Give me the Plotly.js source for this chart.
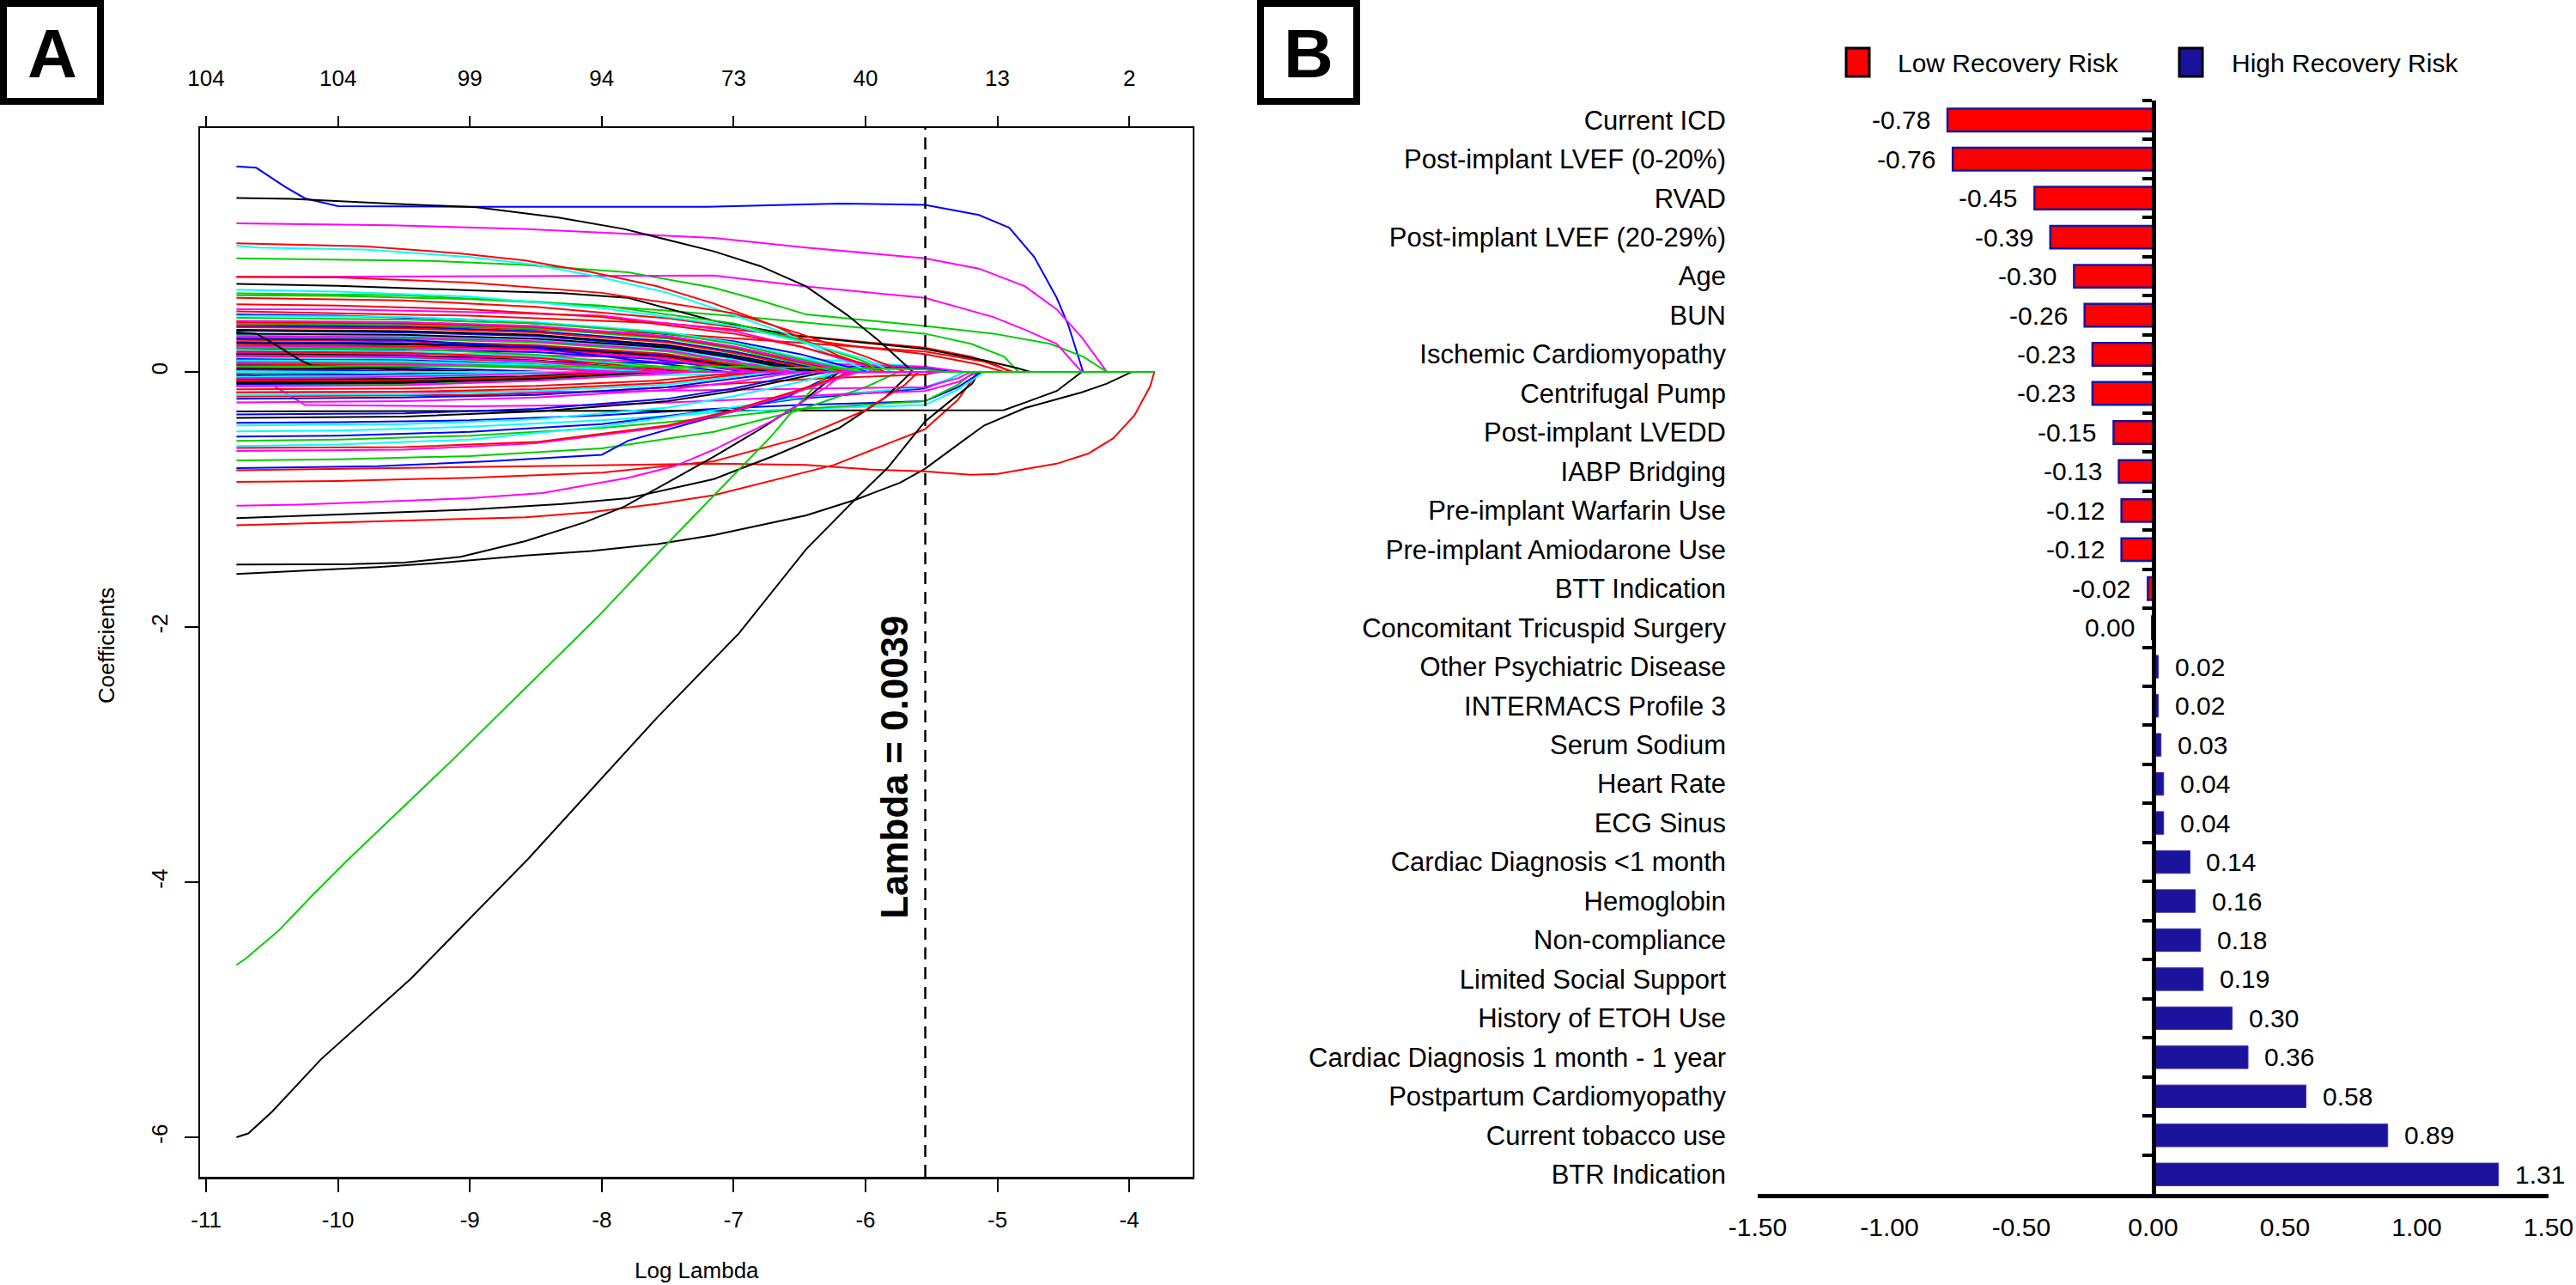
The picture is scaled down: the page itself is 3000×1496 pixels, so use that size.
<!DOCTYPE html>
<html>
<head>
<meta charset="utf-8">
<script src="https://cdn.plot.ly/plotly-3.0.1.min.js"></script>
<style>
  body { margin: 0; background: #fff; }
  #plot { width: 3000px; height: 1496px; }
</style>
</head>
<body>
<div id="plot"></div>
<script>
// ---- Panel A: lasso coefficient paths (log lambda, coefficient) ----
const logLambdaMax = -3.81;
const lambdaMin = 0.0039;
const dfTickVals = [-11, -10, -9, -8, -7, -6, -5, -4];
const dfTickText = ['104', '104', '99', '94', '73', '40', '13', '2'];
const coefTickVals = [-6, -4, -2, 0];

const pathsBlack = [
  [[-10.77,-1.585],[-10.54,-1.575],[-10.08,-1.55],[-9.7,-1.53],[-9.2,-1.495],[-8.58,-1.44],[-8.08,-1.405],[-7.58,-1.35],[-7.15,-1.28],[-6.45,-1.125],[-6.07,-1.0],[-5.74,-0.87],[-5.55,-0.76],[-5.26,-0.54],[-5.1,-0.42],[-4.79,-0.283],[-4.55,-0.215],[-4.36,-0.16],[-4.17,-0.092],[-3.98,0]],
  [[-10.77,-6.0],[-10.68,-5.97],[-10.5,-5.8],[-10.13,-5.39],[-9.45,-4.76],[-8.56,-3.82],[-7.58,-2.71],[-6.96,-2.05],[-6.45,-1.39],[-6.05,-0.97],[-5.83,-0.75],[-5.55,-0.39],[-5.36,-0.23],[-5.19,-0.09],[-5.14,0]],
  [[-10.77,-0.31],[-8,-0.305],[-5.55,-0.3],[-4.95,-0.3],[-4.79,-0.24],[-4.55,-0.15],[-4.36,0]],
  [[-10.77,0.689],[-10,0.675],[-9,0.64],[-8.3,0.617],[-7.8,0.58],[-7.15,0.4],[-6.5,0.28],[-5.55,0.18],[-5.1,0.09],[-4.85,0.03],[-4.75,0]],
  [[-10.77,1.363],[-10.35,1.356],[-9.58,1.318],[-8.95,1.29],[-8.33,1.21],[-7.83,1.12],[-7.15,0.945],[-6.8,0.83],[-6.45,0.67],[-6.14,0.447],[-5.9,0.245],[-5.69,0.043],[-5.64,0]],
  [[-10.77,-1.147],[-10,-1.12],[-9,-1.08],[-8.3,-1.035],[-7.8,-0.99],[-7.15,-0.84],[-6.7,-0.66],[-6.2,-0.44],[-5.85,-0.2],[-5.65,0]],
  [[-10.77,-1.511],[-9.9,-1.507],[-9.5,-1.495],[-9.07,-1.45],[-8.58,-1.327],[-8.13,-1.18],[-7.83,-1.057],[-7.48,-0.855],[-7.15,-0.664],[-6.8,-0.45],[-6.5,-0.25],[-6.2,0]],
  [[-10.77,0.225],[-9.5,0.215],[-8.5,0.19],[-7.5,0.12],[-6.75,0]],
  [[-10.77,0.3],[-9.5,0.29],[-8.5,0.26],[-7.5,0.19],[-7,0.11],[-6.45,0]],
  [[-10.77,0.33],[-9.5,0.32],[-8.5,0.29],[-7.5,0.21],[-7,0.13],[-6.35,0]],
  [[-10.77,-0.36],[-9.5,-0.35],[-8.5,-0.31],[-7.5,-0.23],[-7,-0.15],[-6.3,0]],
  [[-10.77,0.14],[-9.5,0.13],[-8.5,0.09],[-7.4,0]],
  [[-10.77,-0.06],[-9.5,-0.055],[-8.6,-0.035],[-7.9,0]],
  [[-10.77,-0.081],[-9.5,-0.075],[-8.5,-0.05],[-7.7,0]],
  [[-10.77,-0.09],[-9.5,-0.083],[-8.5,-0.055],[-7.6,0]],
  [[-10.77,0.03],[-9.8,0.025],[-8.8,0]],
  [[-10.77,0.31],[-10.62,0.3],[-10.5,0.23],[-10.3,0.1],[-10.2,0.05],[-9.7,0.03],[-9.2,0]]
];

const pathsRed = [
  [[-10.77,-0.772],[-10,-0.76],[-9,-0.745],[-8,-0.73],[-7.15,-0.72],[-6.45,-0.73],[-5.97,-0.765],[-5.55,-0.78],[-5.2,-0.806],[-5.0,-0.8],[-4.79,-0.765],[-4.55,-0.72],[-4.31,-0.64],[-4.12,-0.52],[-3.96,-0.34],[-3.84,-0.11],[-3.81,0]],
  [[-10.77,-1.203],[-10.3,-1.19],[-9.5,-1.17],[-8.58,-1.14],[-8.08,-1.1],[-7.58,-1.035],[-7.15,-0.967],[-6.24,-0.73],[-5.8,-0.55],[-5.55,-0.45],[-5.3,-0.22],[-5.15,0]],
  [[-10.77,0.474],[-9,0.44],[-7.5,0.38],[-6.5,0.28],[-5.55,0.19],[-5.2,0.12],[-5,0.05],[-4.9,0]],
  [[-10.77,0.375],[-9,0.35],[-7.5,0.3],[-6.5,0.23],[-5.55,0.16],[-5.1,0.08],[-4.88,0]],
  [[-10.77,0.581],[-9.5,0.56],[-8.5,0.51],[-7.5,0.42],[-7,0.35],[-6.5,0.26],[-6,0.19],[-5.55,0.14],[-5.15,0.06],[-4.95,0]],
  [[-10.77,-0.193],[-9,-0.18],[-8,-0.15],[-7,-0.09],[-6.3,-0.05],[-5.55,-0.02],[-5.45,0]],
  [[-10.77,1.008],[-9.8,0.985],[-9.08,0.929],[-8.58,0.873],[-8.08,0.783],[-7.58,0.671],[-7.15,0.536],[-6.68,0.357],[-6.21,0.13],[-5.85,0]],
  [[-10.77,-0.862],[-10,-0.855],[-9,-0.83],[-8,-0.79],[-7.15,-0.7],[-6.5,-0.52],[-6,-0.3],[-5.7,-0.1],[-5.6,0]],
  [[-10.77,0.745],[-10,0.74],[-9,0.7],[-8,0.62],[-7,0.46],[-6.5,0.3],[-6,0.12],[-5.7,0]],
  [[-10.77,0.53],[-10,0.52],[-9,0.49],[-8,0.43],[-7,0.3],[-6.5,0.2],[-6,0.06],[-5.92,0]],
  [[-10.77,0.21],[-9.5,0.2],[-8.5,0.18],[-7.5,0.11],[-6.8,0]],
  [[-10.77,0.25],[-9.5,0.24],[-8.5,0.21],[-7.5,0.14],[-6.65,0]],
  [[-10.77,0.35],[-9.5,0.34],[-8.5,0.31],[-7.5,0.23],[-7,0.15],[-6.3,0]],
  [[-10.77,0.39],[-9.5,0.38],[-8.5,0.35],[-7.5,0.27],[-7,0.19],[-6.5,0.08],[-6.15,0]],
  [[-10.77,-0.137],[-9.5,-0.13],[-8.5,-0.11],[-7.6,-0.07],[-6.9,0]],
  [[-10.77,-0.16],[-9.5,-0.155],[-8.5,-0.135],[-7.5,-0.085],[-6.8,0]],
  [[-10.77,-0.597],[-9.5,-0.59],[-8.5,-0.55],[-7.5,-0.42],[-7,-0.3],[-6.5,-0.14],[-6.1,0]],
  [[-10.77,0.06],[-9.5,0.055],[-8.6,0.035],[-7.9,0]],
  [[-10.77,0.125],[-9.5,0.115],[-8.5,0.08],[-7.5,0]],
  [[-10.77,0.16],[-9.5,0.15],[-8.5,0.11],[-7.3,0]],
  [[-10.77,-0.07],[-9.5,-0.064],[-8.5,-0.04],[-7.8,0]],
  [[-10.77,0.02],[-10,0.015],[-9.3,0]]
];

const pathsBlue = [
  [[-10.77,1.61],[-10.62,1.6],[-10.4,1.45],[-10.25,1.36],[-10,1.3],[-9,1.295],[-7.2,1.295],[-6.6,1.31],[-6.2,1.32],[-5.55,1.31],[-5.14,1.23],[-4.91,1.13],[-4.72,0.9],[-4.55,0.58],[-4.46,0.36],[-4.35,0]],
  [[-10.77,0.092],[-9,0.085],[-7.5,0.07],[-6.5,0.05],[-5.55,0.03],[-5.35,0]],
  [[-10.77,-0.4],[-10,-0.395],[-9,-0.38],[-8,-0.34],[-7.15,-0.29],[-6.5,-0.26],[-5.55,-0.23],[-5.3,-0.12],[-5.12,0]],
  [[-10.77,-0.507],[-10,-0.5],[-9,-0.47],[-8,-0.41],[-7.15,-0.3],[-6.5,-0.21],[-5.55,-0.13],[-5.35,-0.05],[-5.25,0]],
  [[-10.77,0.45],[-10,0.44],[-9,0.41],[-8,0.35],[-7,0.24],[-6.5,0.14],[-6.1,0.03],[-5.98,0]],
  [[-10.77,-0.754],[-10.15,-0.745],[-9.7,-0.74],[-8.85,-0.7],[-8.0,-0.65],[-7.8,-0.54],[-7.15,-0.35],[-6.6,-0.2],[-6.2,0]],
  [[-10.77,0.184],[-9.5,0.175],[-8.5,0.155],[-7.6,0.1],[-6.9,0]],
  [[-10.77,0.233],[-9.5,0.225],[-8.5,0.2],[-7.5,0.13],[-6.7,0]],
  [[-10.77,0.323],[-9.5,0.31],[-8.5,0.28],[-7.5,0.2],[-7,0.12],[-6.4,0]],
  [[-10.77,0.36],[-9.5,0.35],[-8.5,0.32],[-7.5,0.24],[-7,0.16],[-6.25,0]],
  [[-10.77,-0.21],[-9.5,-0.2],[-8.5,-0.18],[-7.5,-0.12],[-6.6,0]],
  [[-10.77,-0.334],[-9.5,-0.325],[-8.5,-0.29],[-7.5,-0.21],[-7,-0.13],[-6.4,0]],
  [[-10.77,0.1],[-9.5,0.092],[-8.5,0.06],[-7.7,0]],
  [[-10.77,0.12],[-9.5,0.11],[-8.5,0.075],[-7.55,0]],
  [[-10.77,0.26],[-9.5,0.25],[-8.5,0.19],[-7.8,0.1],[-7.05,0]],
  [[-10.77,-0.1],[-9.5,-0.092],[-8.5,-0.06],[-7.5,0]],
  [[-10.77,-0.025],[-9.8,-0.02],[-8.6,0]],
  [[-10.77,0.05],[-9.8,0.042],[-9,0.02],[-8.4,0]],
  [[-10.77,0.016],[-10.1,0.012],[-9.4,0]]
];

const pathsCyan = [
  [[-10.77,0.3],[-9,0.26],[-7.5,0.18],[-6.5,0.11],[-5.55,0.04],[-5.3,0]],
  [[-10.77,-0.04],[-8,-0.03],[-6,-0.01],[-5.55,-0.004],[-5.5,0]],
  [[-10.77,-0.467],[-10,-0.46],[-9,-0.43],[-8,-0.38],[-7.15,-0.32],[-6.5,-0.29],[-5.55,-0.26],[-5.3,-0.14],[-5.1,0]],
  [[-10.77,-0.581],[-10,-0.57],[-9,-0.53],[-8,-0.43],[-7.15,-0.3],[-6.5,-0.2],[-5.55,-0.12],[-5.35,-0.05],[-5.25,0]],
  [[-10.77,0.99],[-10.6,0.975],[-9.8,0.96],[-9,0.9],[-8.5,0.84],[-8,0.74],[-7.5,0.62],[-7.15,0.5],[-6.6,0.3],[-6.2,0.1],[-5.95,0]],
  [[-10.77,0.644],[-10,0.63],[-9,0.59],[-8,0.5],[-7,0.36],[-6.5,0.24],[-6,0.1],[-5.8,0]],
  [[-10.77,0.29],[-9.5,0.28],[-8.5,0.25],[-7.5,0.18],[-7,0.1],[-6.5,0]],
  [[-10.77,0.44],[-9.5,0.43],[-8.5,0.39],[-7.5,0.31],[-7,0.23],[-6.5,0.11],[-6.02,0]],
  [[-10.77,-0.18],[-9.5,-0.175],[-8.5,-0.15],[-7.5,-0.1],[-6.7,0]],
  [[-10.77,-0.42],[-9.5,-0.41],[-8.5,-0.37],[-7.5,-0.28],[-7,-0.19],[-6.5,-0.08],[-6.2,0]],
  [[-10.77,0.09],[-9.5,0.083],[-8.5,0.055],[-7.75,0]],
  [[-10.77,0.114],[-9.5,0.105],[-8.5,0.07],[-7.6,0]],
  [[-10.77,0.17],[-9.5,0.16],[-8.5,0.12],[-7.25,0]],
  [[-10.77,-0.04],[-9.8,-0.034],[-9,-0.018],[-8.3,0]],
  [[-10.77,0.005],[-10.3,0.004],[-9.8,0]]
];

const pathsMagenta = [
  [[-10.77,1.165],[-9.6,1.15],[-8.6,1.12],[-7.15,1.05],[-6.45,0.975],[-5.55,0.89],[-5.14,0.81],[-4.79,0.67],[-4.55,0.49],[-4.36,0.27],[-4.17,0]],
  [[-10.77,0.743],[-8.5,0.75],[-7.15,0.756],[-6.45,0.67],[-5.55,0.58],[-5.03,0.43],[-4.79,0.33],[-4.55,0.22],[-4.36,0]],
  [[-10.77,0.15],[-9,0.14],[-7.5,0.11],[-6.5,0.07],[-5.55,0.04],[-5.25,0]],
  [[-10.77,0.137],[-9,0.12],[-7.5,0.08],[-6.5,0.045],[-5.55,0.02],[-5.42,0]],
  [[-10.77,-0.01],[-10.6,-0.03],[-10.5,-0.1],[-10.25,-0.26],[-9,-0.27],[-8,-0.26],[-7,-0.22],[-6.3,-0.18],[-5.55,-0.15],[-5.3,-0.08],[-5.15,0]],
  [[-10.77,-0.16],[-9,-0.16],[-8,-0.155],[-7,-0.14],[-6.3,-0.13],[-5.55,-0.12],[-5.3,-0.05],[-5.2,0]],
  [[-10.77,0.492],[-10,0.49],[-9,0.47],[-8,0.44],[-7,0.32],[-6.5,0.2],[-6,0.05],[-5.95,0]],
  [[-10.77,-1.05],[-10.3,-1.04],[-9.5,-1.01],[-9,-0.99],[-8.45,-0.95],[-7.8,-0.83],[-7.45,-0.74],[-7.15,-0.61],[-6.7,-0.38],[-6.3,-0.12],[-6.15,0]],
  [[-10.77,0.2],[-9.5,0.19],[-8.5,0.17],[-7.6,0.11],[-6.85,0]],
  [[-10.77,0.28],[-9.5,0.27],[-8.5,0.24],[-7.5,0.17],[-6.55,0]],
  [[-10.77,0.4],[-9.5,0.39],[-8.5,0.36],[-7.5,0.28],[-7,0.2],[-6.5,0.09],[-6.1,0]],
  [[-10.77,-0.24],[-9.5,-0.23],[-8.5,-0.2],[-7.5,-0.14],[-7,-0.08],[-6.5,0]],
  [[-10.77,-0.62],[-9.5,-0.61],[-8.5,-0.56],[-7.5,-0.43],[-7,-0.31],[-6.5,-0.15],[-6.05,0]],
  [[-10.77,0.07],[-9.5,0.064],[-8.6,0.04],[-7.85,0]],
  [[-10.77,0.13],[-9.5,0.12],[-8.5,0.085],[-7.45,0]],
  [[-10.77,-0.114],[-9.5,-0.105],[-8.5,-0.07],[-7.3,0]],
  [[-10.77,-0.05],[-9.8,-0.043],[-9,-0.025],[-8.1,0]]
];

const pathsGreen = [
  [[-10.77,0.89],[-9.3,0.87],[-8.6,0.84],[-7.8,0.78],[-7.15,0.66],[-6.8,0.56],[-6.45,0.45],[-5.97,0.4],[-5.55,0.36],[-5.03,0.3],[-4.6,0.22],[-4.35,0.12],[-4.17,0]],
  [[-10.77,0.615],[-9.5,0.6],[-8.5,0.55],[-7.5,0.48],[-6.8,0.42],[-6.2,0.36],[-5.55,0.3],[-5.2,0.22],[-4.95,0.12],[-4.84,0]],
  [[-10.77,-0.541],[-10,-0.53],[-9,-0.5],[-8,-0.44],[-7.15,-0.36],[-6.5,-0.29],[-5.55,-0.23],[-5.3,-0.1],[-5.18,0]],
  [[-10.77,-0.694],[-10,-0.685],[-9,-0.66],[-8,-0.6],[-7.15,-0.47],[-6.5,-0.3],[-6,-0.12],[-5.75,0]],
  [[-10.77,0.6],[-10,0.595],[-9,0.57],[-8,0.52],[-7,0.38],[-6.5,0.25],[-6,0.08],[-5.9,0]],
  [[-10.77,-4.65],[-10.7,-4.6],[-10.45,-4.38],[-10.2,-4.11],[-9.92,-3.82],[-9.14,-3.05],[-8.55,-2.45],[-8.03,-1.92],[-7.6,-1.45],[-7.16,-0.98],[-6.71,-0.5],[-6.54,-0.29],[-6.38,-0.11],[-6.26,0]],
  [[-10.77,0.27],[-9.5,0.26],[-8.5,0.23],[-7.5,0.16],[-6.6,0]],
  [[-10.77,0.38],[-9.5,0.37],[-8.5,0.34],[-7.5,0.26],[-7,0.18],[-6.2,0]],
  [[-10.77,0.424],[-9.5,0.41],[-8.5,0.38],[-7.5,0.3],[-7,0.22],[-6.5,0.1],[-6.05,0]],
  [[-10.77,0.081],[-9.5,0.075],[-8.5,0.048],[-7.8,0]],
  [[-10.77,0.19],[-9.5,0.18],[-8.5,0.135],[-7.15,0]],
  [[-10.77,-0.11],[-9.5,-0.1],[-8.5,-0.065],[-7.4,0]],
  [[-10.77,-0.01],[-10.2,-0.008],[-9.6,0]],
  [[-10.77,0.043],[-9,0.045],[-7,0.04],[-5.55,0.02],[-5.4,0]]
];

// ---- Panel B: coefficients at the chosen lambda ----
const factorNames = [
  'Current ICD', 'Post-implant LVEF (0-20%)', 'RVAD', 'Post-implant LVEF (20-29%)', 'Age', 'BUN',
  'Ischemic Cardiomyopathy', 'Centrifugal Pump', 'Post-implant LVEDD', 'IABP Bridging',
  'Pre-implant Warfarin Use', 'Pre-implant Amiodarone Use', 'BTT Indication',
  'Concomitant Tricuspid Surgery', 'Other Psychiatric Disease', 'INTERMACS Profile 3',
  'Serum Sodium', 'Heart Rate', 'ECG Sinus', 'Cardiac Diagnosis <1 month', 'Hemoglobin',
  'Non-compliance', 'Limited Social Support', 'History of ETOH Use',
  'Cardiac Diagnosis 1 month - 1 year', 'Postpartum Cardiomyopathy', 'Current tobacco use', 'BTR Indication'
];
const factorCoefs = [
  -0.78, -0.76, -0.45, -0.39, -0.30, -0.26, -0.23, -0.23, -0.15, -0.13, -0.12, -0.12, -0.02,
  -0.004, 0.02, 0.02, 0.03, 0.04, 0.04, 0.14, 0.16, 0.18, 0.19, 0.30, 0.36, 0.58, 0.89, 1.31
];
const coefAxisTicks = [-1.5, -1.0, -0.5, 0, 0.5, 1.0, 1.5];

const FONT = 'Liberation Sans, Arial, Helvetica, sans-serif';
const RED = '#FF0000';
const NAVY = '#1B139B';

// build coefficient path traces, interleaving colours like R's matplot cycle
const groups = [
  {paths: pathsBlack, color: '#000000'},
  {paths: pathsRed, color: '#FF0000'},
  {paths: pathsBlue, color: '#0000FF'},
  {paths: pathsCyan, color: '#00FFFF'},
  {paths: pathsMagenta, color: '#FF00FF'},
  {paths: pathsGreen, color: '#00CD00'}
];
const entries = [];
groups.forEach((g, gi) => {
  g.paths.forEach((p, k) => {
    entries.push({p: p, color: g.color, pos: k / (g.paths.length - 1), gi: gi});
  });
});
entries.sort((a, b) => (a.pos - b.pos) || (a.gi - b.gi));

const traces = entries.map(e => {
  const pts = e.p.slice();
  if (pts[pts.length - 1][0] < logLambdaMax) pts.push([logLambdaMax, 0]);
  return {
    type: 'scatter', mode: 'lines',
    x: pts.map(d => d[0]), y: pts.map(d => d[1]),
    xaxis: 'x', yaxis: 'y',
    line: {color: e.color, width: 2},
    hoverinfo: 'skip', showlegend: false
  };
});

// top axis helper (degrees of freedom labels)
traces.push({
  type: 'scatter', mode: 'markers', x: dfTickVals, y: dfTickVals.map(() => 0),
  xaxis: 'x2', yaxis: 'y', marker: {opacity: 0}, hoverinfo: 'skip', showlegend: false
});

// bar chart
const lowIdx = factorCoefs.map((v, i) => i).filter(i => factorCoefs[i] < 0);
const highIdx = factorCoefs.map((v, i) => i).filter(i => factorCoefs[i] > 0);

traces.push({
  type: 'bar', orientation: 'h', name: 'Low Recovery Risk',
  x: lowIdx.map(i => factorCoefs[i]), y: lowIdx.map(i => factorNames[i]),
  xaxis: 'x3', yaxis: 'y3',
  marker: {color: RED, line: {color: NAVY, width: 2.5}},
  hoverinfo: 'skip', showlegend: false
});
traces.push({
  type: 'bar', orientation: 'h', name: 'High Recovery Risk',
  x: highIdx.map(i => factorCoefs[i]), y: highIdx.map(i => factorNames[i]),
  xaxis: 'x3', yaxis: 'y3',
  marker: {color: NAVY, line: {color: '#3A34B0', width: 1}},
  hoverinfo: 'skip', showlegend: false
});
// helper so the zero axis (with boundary ticks) is drawn
traces.push({
  type: 'scatter', mode: 'markers', x: [0], y: [0],
  xaxis: 'x3', yaxis: 'y4', marker: {opacity: 0}, hoverinfo: 'skip', showlegend: false
});

const fmt = v => (Math.abs(v) < 0.005 ? '0.00' : v.toFixed(2));

const annotations = [];
factorCoefs.forEach((v, i) => {
  annotations.push({
    xref: 'x3', yref: 'y3', x: v, y: factorNames[i],
    text: fmt(v), showarrow: false,
    xanchor: v < 0 ? 'right' : 'left', xshift: v < 0 ? -18 : 17,
    font: {family: FONT, size: 30, color: '#000'}
  });
});

// panel letters, axis titles, lambda label, legend text
annotations.push(
  {xref: 'paper', yref: 'paper', x: 61 / 3000, y: 1 - 62 / 1496, text: '<b>A</b>', showarrow: false,
   xanchor: 'center', yanchor: 'middle', font: {family: FONT, size: 80, color: '#000'}},
  {xref: 'paper', yref: 'paper', x: 1524 / 3000, y: 1 - 62 / 1496, text: '<b>B</b>', showarrow: false,
   xanchor: 'center', yanchor: 'middle', font: {family: FONT, size: 80, color: '#000'}},
  {xref: 'paper', yref: 'paper', x: 124 / 3000, y: 1 - 752 / 1496, text: 'Coefficients', textangle: -90,
   showarrow: false, xanchor: 'center', yanchor: 'middle', font: {family: FONT, size: 26, color: '#000'}},
  {xref: 'paper', yref: 'paper', x: 811 / 3000, y: 1 - 1479 / 1496, text: 'Log Lambda',
   showarrow: false, xanchor: 'center', yanchor: 'middle', font: {family: FONT, size: 26, color: '#000'}},
  {xref: 'x', yref: 'y', x: Math.log(lambdaMin), y: -3.1, xshift: -36, text: '<b>Lambda = ' + lambdaMin + '</b>',
   textangle: -90, showarrow: false, xanchor: 'center', yanchor: 'middle',
   font: {family: FONT, size: 44, color: '#000'}},
  {xref: 'paper', yref: 'paper', x: 2208 / 3000, y: 1 - 73 / 1496, text: 'Low Recovery Risk',
   showarrow: false, xanchor: 'left', yanchor: 'middle', font: {family: FONT, size: 30, color: '#000'}},
  {xref: 'paper', yref: 'paper', x: 2597 / 3000, y: 1 - 73 / 1496, text: 'High Recovery Risk',
   showarrow: false, xanchor: 'left', yanchor: 'middle', font: {family: FONT, size: 30, color: '#000'}}
);

const shapes = [
  // panel letter boxes
  {type: 'rect', xref: 'paper', yref: 'paper', x0: 4 / 3000, x1: 117 / 3000, y0: 1 - 118 / 1496, y1: 1 - 4 / 1496,
   line: {color: '#000', width: 8}},
  {type: 'rect', xref: 'paper', yref: 'paper', x0: 1468 / 3000, x1: 1580 / 3000, y0: 1 - 118 / 1496, y1: 1 - 4 / 1496,
   line: {color: '#000', width: 8}},
  // chosen lambda
  {type: 'line', xref: 'x', yref: 'y domain', x0: Math.log(lambdaMin), x1: Math.log(lambdaMin), y0: 0, y1: 1,
   line: {color: '#000', width: 2.5, dash: '14px,9px'}},
  // legend swatches
  {type: 'rect', xref: 'paper', yref: 'paper', x0: 2150 / 3000, x1: 2177 / 3000, y0: 1 - 89 / 1496, y1: 1 - 56 / 1496,
   fillcolor: RED, line: {color: '#000', width: 3}},
  {type: 'rect', xref: 'paper', yref: 'paper', x0: 2538 / 3000, x1: 2565 / 3000, y0: 1 - 89 / 1496, y1: 1 - 56 / 1496,
   fillcolor: NAVY, line: {color: '#000', width: 3}}
];

const layout = {
  width: 3000, height: 1496,
  margin: {l: 0, r: 0, t: 0, b: 0},
  paper_bgcolor: '#fff', plot_bgcolor: 'rgba(0,0,0,0)',
  font: {family: FONT, color: '#000'},
  showlegend: false,
  hovermode: false,
  barmode: 'relative',
  bargap: 0.42,
  xaxis: {
    domain: [233 / 3000, 1389 / 3000], range: [-11.046, -3.519], anchor: 'y',
    tickvals: dfTickVals, ticktext: dfTickVals.map(String),
    ticks: 'outside', ticklen: 15, tickwidth: 2, tickcolor: '#000',
    showline: true, linewidth: 2.5, linecolor: '#000',
    showgrid: false, zeroline: false, ticklabelstandoff: 10,
    tickfont: {family: FONT, size: 26, color: '#000'}
  },
  xaxis2: {
    overlaying: 'x', side: 'top', anchor: 'y', range: [-11.046, -3.519],
    tickvals: dfTickVals, ticktext: dfTickText,
    ticks: 'outside', ticklen: 12, tickwidth: 2, tickcolor: '#000',
    showline: true, linewidth: 2, linecolor: '#000',
    showgrid: false, zeroline: false, ticklabelstandoff: 25,
    tickfont: {family: FONT, size: 26, color: '#000'}
  },
  yaxis: {
    domain: [1 - 1370 / 1496, 1 - 149 / 1496], range: [-6.31, 1.912], anchor: 'x',
    tickvals: coefTickVals, ticktext: coefTickVals.map(String), tickangle: -90,
    ticks: 'outside', ticklen: 16, tickwidth: 2, tickcolor: '#000',
    showline: true, mirror: true, linewidth: 2, linecolor: '#000',
    showgrid: false, zeroline: false, ticklabelstandoff: 10,
    tickfont: {family: FONT, size: 26, color: '#000'}
  },
  xaxis3: {
    domain: [2047 / 3000, 2968 / 3000], range: [-1.5, 1.5], anchor: 'y3',
    tickvals: coefAxisTicks, ticktext: coefAxisTicks.map(v => v.toFixed(2)),
    ticks: 'outside', ticklen: 4, tickcolor: 'rgba(0,0,0,0)',
    showline: true, linewidth: 5, linecolor: '#000',
    showgrid: false, zeroline: false, ticklabelstandoff: 4,
    tickfont: {family: FONT, size: 30, color: '#000'}
  },
  yaxis3: {
    domain: [1 - 1390 / 1496, 1 - 117 / 1496], anchor: 'x3',
    type: 'category', categoryorder: 'array', categoryarray: factorNames,
    range: [factorNames.length - 0.5, -0.5],
    ticks: '', showline: false, showgrid: false, zeroline: false,
    ticklabelstandoff: 36,
    tickfont: {family: FONT, size: 31, color: '#000'}
  },
  yaxis4: {
    overlaying: 'y3', anchor: 'free', position: (2047 + 921 / 2) / 3000, side: 'left',
    range: [factorNames.length - 0.5, -0.5],
    tickvals: factorNames.map((n, i) => i - 0.5),
    ticks: 'outside', ticklen: 11, tickwidth: 4, tickcolor: '#000',
    showticklabels: false, showline: true, linewidth: 5, linecolor: '#000',
    showgrid: false, zeroline: false
  },
  annotations: annotations,
  shapes: shapes
};

Plotly.newPlot('plot', traces, layout, {displayModeBar: false, staticPlot: true});
</script>
</body>
</html>
